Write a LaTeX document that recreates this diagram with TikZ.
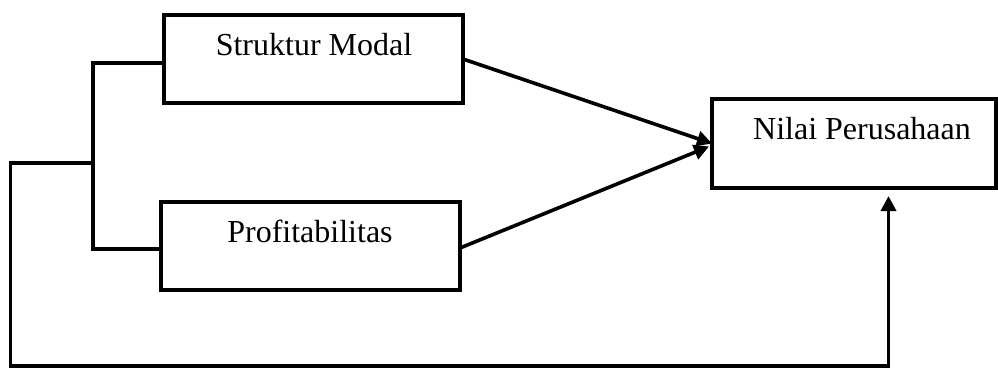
\documentclass[tikz,border=0pt]{standalone}
\usepackage{fontspec}
\setmainfont{Liberation Serif}
\usetikzlibrary{arrows.meta}
\begin{document}
\begin{tikzpicture}[x=1pt,y=-1pt,
  box/.style={draw,line width=3.6pt,rectangle,inner sep=0pt,outer sep=0pt},
  lbl/.style={anchor=base,inner sep=0pt,font=\fontsize{32}{38}\selectfont},
  conn/.style={line width=3.6pt},
  arr/.style={line width=3.6pt,-{Triangle[length=15pt,width=15pt]}}]
\useasboundingbox (0,0) rectangle (998,368);
\node[box,minimum width=299pt,minimum height=88pt] (sm) at (313.5,59) {};
\node[box,minimum width=299pt,minimum height=88pt] (pf) at (310.5,246) {};
\node[box,minimum width=284pt,minimum height=89pt] (np) at (854,143.5) {};
\node[lbl] (smt) at (314,55) {Struktur Modal};
\node[lbl] (pft) at (310,242) {Profitabilitas};
\node[lbl] (npt) at (862,139) {Nilai Perusahaan};
\coordinate (b1) at (93,63);
\coordinate (b2) at (93,249);
\coordinate (j) at (93,163);
\coordinate (c1) at (10.5,163);
\coordinate (c2) at (10.5,366);
\coordinate (c3) at (888.5,366);
\coordinate (c4) at (888.5,196);
\draw[conn] (sm.west |- b1) -- (b1) -- (b2) -- (pf.west |- b2);
\draw[arr] (sm.east) -- (np.west);
\draw[arr] ([yshift=-2pt]pf.east) -- ([xshift=-3pt,yshift=-3pt]np.west);
\draw[arr] (j) -- (c1) -- (c2) -- (c3) -- (c4);
\end{tikzpicture}
\end{document}
